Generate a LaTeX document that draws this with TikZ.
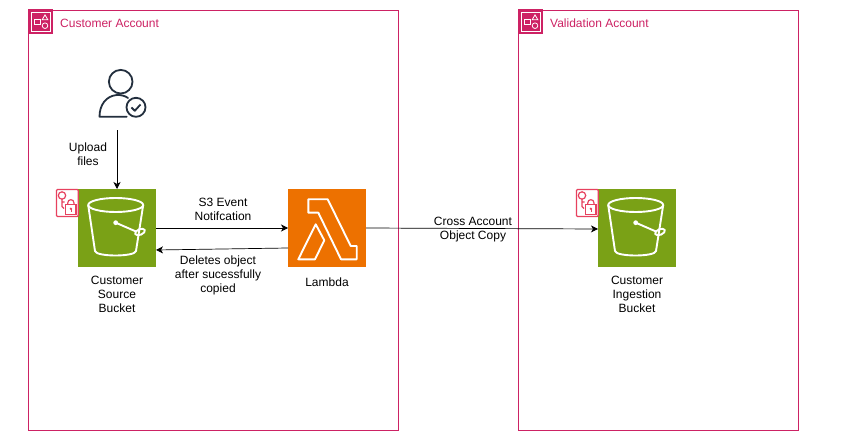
\documentclass[tikz,border=0pt]{standalone}
\usepackage{fontspec}
\setmainfont{Liberation Sans}
\usetikzlibrary{arrows.meta}
\definecolor{grp}{HTML}{CD2264}
\definecolor{s3g}{HTML}{7AA116}
\definecolor{lam}{HTML}{ED7100}
\definecolor{usr}{HTML}{232F3E}
\definecolor{sec}{HTML}{E7415F}
\tikzset{
  acct/.style={draw=grp,line width=0.8pt,fill=white},
  iconbox/.style={minimum size=78pt,inner sep=0pt,outer sep=0pt},
  lbl/.style={font=\fontsize{12}{14}\selectfont,align=center,text=black,inner sep=0pt},
  ttl/.style={font=\fontsize{12}{14}\selectfont,text=grp,anchor=west,inner sep=0pt},
  conn/.style={draw=black,line width=0.7pt,-{Stealth[length=7pt,width=7pt,inset=2pt]}},
  wl/.style={draw=white,line width=1.9pt,line join=round},
  grpline/.style={draw=white,line width=0.8pt},
  secline/.style={draw=sec,line width=1.2pt},
  grpicon/.pic={
    \fill[grp] (0,0) rectangle (25,25);
    \draw[grpline] (3.7,3.2) rectangle (22.5,22);
    \draw[grpline] (6,9.5) rectangle (12,15.2);
    \draw[grpline] (17,5.4) -- (19.8,10.2) -- (14.2,10.2) -- cycle;
    \draw[grpline] (17,16.2) circle (2.8);
  },
  bucketicon/.pic={
    \draw[wl] (37.7,16) ellipse (27.5 and 7);
    \draw[wl] (10.2,16) -- (17,62) .. controls (18,68) and (57,68) .. (58,62) -- (65.2,16);
    \fill[white] (37.7,33.7) circle (2.4);
    \draw[wl] (37.7,33.7) -- (58,42.5);
    \draw[wl,rotate around={22:(62,43)}] (62,43) ellipse (5.2 and 2.8);
  },
  lockicon/.pic={
    \draw[sec,line width=1.2pt,rounded corners=1pt,fill=white] (0,0.5) rectangle (21.7,27.5);
    \draw[secline] (5.5,6.5) circle (3.7);
    \draw[secline] (5.5,10.2) -- (5.5,17.5) -- (7.5,19.5) (5.5,13) -- (8,13);
    \draw[secline] (9.2,15.8) rectangle (19.5,25.8);
    \draw[secline] (11.2,15.8) -- (11.2,14) .. controls (11.2,9.6) and (17.5,9.6) .. (17.5,14) -- (17.5,15.8);
    \fill[sec] (14.4,19.8) circle (1.3);
    \draw[sec,line width=0.8pt] (14.4,20) -- (14.4,23.3);
  },
}
\begin{document}
\begin{tikzpicture}[x=1pt,y=-1pt]
\useasboundingbox (0,0) rectangle (861,446);
\fill[white] (0,0) rectangle (861,446);
% accounts
\node[acct,minimum width=370pt,minimum height=420pt,inner sep=0pt,anchor=north west] (custacct) at (28,9.6) {};
\node[acct,minimum width=280pt,minimum height=420pt,inner sep=0pt,anchor=north west] (valacct) at (518,9.6) {};
\pic at (28,9.5) {grpicon};
\pic at (518,9.5) {grpicon};
\node[ttl] (custttl) at (60,23) {Customer Account};
\node[ttl] (valttl) at (550,23) {Validation Account};
% user
\node[minimum width=70pt,minimum height=70pt,inner sep=0pt] (user) at (117,95) {};
\draw[usr,line width=1.8pt] (120.7,81.7) circle (11.8);
\draw[usr,line width=1.8pt,line cap=round,line join=round] (126.7,116.7) -- (99.5,116.7) .. controls (99.5,105) and (106,96) .. (116.7,95) .. controls (120,94.8) and (125,95.5) .. (128,98);
\draw[usr,line width=1.8pt] (136,107.3) circle (9.5);
\draw[usr,line width=1.8pt,line join=round] (131.5,107.5) -- (134.8,110.8) -- (140.5,104.5);
% icons
\node[iconbox,fill=s3g] (src) at (117,228) {};
\node[iconbox,fill=lam] (lamb) at (327,228) {};
\node[iconbox,fill=s3g] (ing) at (637,228) {};
\pic at (78,189) {bucketicon};
\pic at (598,189) {bucketicon};
\pic at (56.5,189) {lockicon};
\pic at (576.5,189) {lockicon};
\draw[wl] (308.3,199.3) -- (327.7,199.3) -- (350.7,246) -- (356.7,246) -- (356.7,259.3) -- (341,259.3) -- (318.3,212.7) -- (308.3,212.7) -- cycle;
\draw[wl] (315.7,224.3) -- (324.3,240.3) -- (315,259.3) -- (298.3,259.3) -- cycle;
% connectors
\draw[conn] (user.south) -- (src.north);
\draw[conn] (src.east) -- (lamb.west);
\draw[conn] ([yshift=-20pt]lamb.west) -- ([yshift=-22pt]src.east);
\draw[conn] (lamb.east) -- ([yshift=-1pt]ing.west);
% labels
\node[lbl] (l1) at (88,154) {Upload\\files};
\node[lbl] (l2) at (223,209) {S3 Event\\Notifcation};
\node[lbl] (l3) at (218,275) {Deletes object\\after sucessfully\\copied};
\node[lbl] (l4) at (473,229.5) {Cross Account\\Object Copy};
\node[lbl] (l5) at (117,294) {Customer\\Source\\Bucket};
\node[lbl] (l6) at (327,282) {Lambda};
\node[lbl] (l7) at (637,294) {Customer\\Ingestion\\Bucket};
\end{tikzpicture}
\end{document}
